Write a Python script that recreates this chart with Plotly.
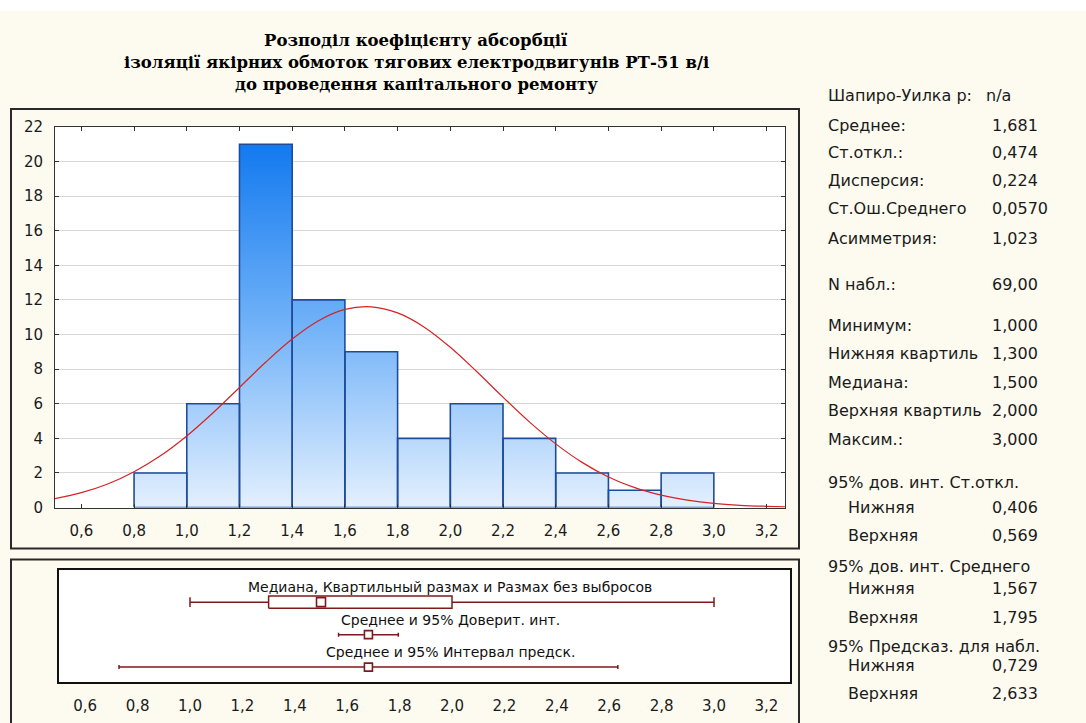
import plotly.graph_objects as go

# ---------------- data ----------------
bin_left = [0.8, 1.0, 1.2, 1.4, 1.6, 1.8, 2.0, 2.2, 2.4, 2.6, 2.8]
bin_width = 0.2
counts = [2, 6, 21, 12, 9, 4, 6, 4, 2, 1, 2]

# expected normal curve
curve_x = [0.5, 0.6, 0.7, 0.8, 0.9, 1.0, 1.1, 1.2, 1.3, 1.4, 1.5, 1.6, 1.7, 1.8, 1.9,
           2.0, 2.1, 2.2, 2.3, 2.4, 2.5, 2.6, 2.7, 2.8, 2.9, 3.0, 3.1, 3.2, 3.27]
curve_y = [0.52, 0.86, 1.36, 2.07, 2.99, 4.14, 5.48, 6.94, 8.41, 9.74, 10.80, 11.45, 11.60,
           11.25, 10.44, 9.26, 7.86, 6.38, 4.95, 3.68, 2.61, 1.77, 1.15, 0.72, 0.43, 0.24,
           0.13, 0.07, 0.04]

x_ticks = [0.6, 0.8, 1.0, 1.2, 1.4, 1.6, 1.8, 2.0, 2.2, 2.4, 2.6, 2.8, 3.0, 3.2]
y_ticks = [0, 2, 4, 6, 8, 10, 12, 14, 16, 18, 20, 22]

q_low, q1, median, q3, q_high = 1.0, 1.3, 1.5, 2.0, 3.0
mean = 1.681
ci_mean = [1.567, 1.795]
pred_int = [0.729, 2.633]
row_labels = ["Медиана, Квартильный размах и Размах без выбросов",
              "Среднее и 95% Доверит. инт.",
              "Среднее и 95% Интервал предск."]

title_lines = ["Розподіл коефіцієнту абсорбції",
               "ізоляції якірних обмоток тягових електродвигунів РТ-51 в/і",
               "до проведення капітального ремонту"]

stat_labels = ["Шапиро-Уилка p:", "Среднее:", "Ст.откл.:", "Дисперсия:", "Ст.Ош.Среднего",
               "Асимметрия:", "N набл.:", "Минимум:", "Нижняя квартиль", "Медиана:",
               "Верхняя квартиль", "Максим.:", "95% дов. инт. Ст.откл.", "Нижняя", "Верхняя",
               "95% дов. инт. Среднего", "Нижняя", "Верхняя", "95% Предсказ. для набл.",
               "Нижняя", "Верхняя"]
stat_values = ["n/a", "1,681", "0,474", "0,224", "0,0570", "1,023", "69,00", "1,000", "1,300",
               "1,500", "2,000", "3,000", "", "0,406", "0,569", "", "1,567", "1,795", "",
               "0,729", "2,633"]
stat_indent = [0, 0, 0, 0, 0, 0, 0, 0, 0, 0, 0, 0, 0, 1, 1, 0, 1, 1, 0, 1, 1]
stat_rows_px = [95, 125, 152, 180, 208, 238, 284, 325, 353, 382, 410, 439, 482, 507, 535,
                566, 588, 617, 646, 665, 693]

# ---------------- layout helpers ----------------
W, H = 1086, 723
OFF, SC = 8.0, 0.976   # observed vertical offset / scale of the photographed page
def px(x):
    return x / W
def py(y):
    return 1 - ((y - OFF) / SC) / H

CREAM = "#FDFAF0"
MAROON = "#7D1B1B"
BAR_LINE = "#1D4C9C"
FONT = "DejaVu Sans"

fig = go.Figure()

# histogram bars as filled polygons with vertical gradient
bx, by = [], []
for l, c in zip(bin_left, counts):
    r = l + bin_width
    bx += [l, l, r, r, l, None]
    by += [0, c, c, 0, 0, None]
fig.add_trace(go.Scatter(
    x=bx, y=by, mode="lines", fill="toself",
    line=dict(color=BAR_LINE, width=1.6),
    fillgradient=dict(type="vertical", start=0, stop=22,
                      colorscale=[[0, "#EAF3FE"], [0.5, "#6FB1F8"], [1, "#0A74EE"]]),
    hoverinfo="skip", showlegend=False, xaxis="x", yaxis="y"))

fig.add_trace(go.Scatter(
    x=curve_x, y=curve_y, mode="lines", line=dict(color="#D42424", width=1.2, shape="spline"),
    hoverinfo="skip", showlegend=False, xaxis="x", yaxis="y"))

# ---- bottom panel (box / intervals) ----
rows = [3, 2, 1]
half_h = 0.19
fig.add_trace(go.Scatter(
    x=[q_low, q1, None, q3, q_high], y=[rows[0]] * 2 + [None] + [rows[0]] * 2,
    mode="lines", line=dict(color=MAROON, width=1.5),
    hoverinfo="skip", showlegend=False, xaxis="x2", yaxis="y2"))
fig.add_trace(go.Scatter(
    x=[q_low, q_high], y=[rows[0]] * 2, mode="markers",
    marker=dict(symbol="line-ns-open", size=7, color=MAROON, line=dict(color=MAROON, width=1.5)),
    hoverinfo="skip", showlegend=False, xaxis="x2", yaxis="y2"))
fig.add_trace(go.Scatter(
    x=[q1, q3, q3, q1, q1],
    y=[rows[0] - half_h, rows[0] - half_h, rows[0] + half_h, rows[0] + half_h, rows[0] - half_h],
    mode="lines", fill="toself", fillcolor="white", line=dict(color=MAROON, width=1.5),
    hoverinfo="skip", showlegend=False, xaxis="x2", yaxis="y2"))
fig.add_trace(go.Scatter(
    x=[median], y=[rows[0]], mode="markers",
    marker=dict(symbol="square", size=9, color="white", line=dict(color=MAROON, width=1.6)),
    hoverinfo="skip", showlegend=False, xaxis="x2", yaxis="y2"))
for row, (lo, hi) in zip(rows[1:], [ci_mean, pred_int]):
    fig.add_trace(go.Scatter(
        x=[mean], y=[row], mode="markers",
        marker=dict(symbol="square", size=8, color="white", line=dict(color=MAROON, width=1.6)),
        error_x=dict(type="data", symmetric=False, array=[hi - mean], arrayminus=[mean - lo],
                     color=MAROON, thickness=1.5, width=2),
        hoverinfo="skip", showlegend=False, xaxis="x2", yaxis="y2"))

annotations = []
for row, lab in zip(rows, row_labels):
    annotations.append(dict(x=px(450), y=row + 0.46, xref="paper", yref="y2", text=lab,
                            showarrow=False, xanchor="center", yanchor="middle",
                            font=dict(family=FONT, size=14, color="#111")))

for line, yy in zip(title_lines, [40, 62, 84]):
    annotations.append(dict(x=px(416), y=py(yy), xref="paper", yref="paper", text="<b>%s</b>" % line,
                            showarrow=False, xanchor="center", yanchor="middle",
                            font=dict(family="DejaVu Serif", size=16.5, color="#000")))

for lab, val, ind, yy in zip(stat_labels, stat_values, stat_indent, stat_rows_px):
    annotations.append(dict(x=px(826 + 20 * ind), y=py(yy), xref="paper", yref="paper", text=lab,
                            showarrow=False, xanchor="left", yanchor="middle",
                            font=dict(family=FONT, size=16, color="#1a1a1a")))
    if val:
        vx = 984 if val == "n/a" else 990
        annotations.append(dict(x=px(vx), y=py(yy), xref="paper", yref="paper", text=val,
                                showarrow=False, xanchor="left", yanchor="middle",
                                font=dict(family=FONT, size=16, color="#1a1a1a")))

shapes = [
    dict(type="rect", xref="paper", yref="paper", x0=0, x1=1, y0=py(10), y1=1.02,
         fillcolor="white", line=dict(width=0), layer="below"),
    dict(type="rect", xref="paper", yref="paper", x0=px(11), x1=px(799), y0=py(548), y1=py(108),
         line=dict(color="#2a2a2a", width=2), layer="above"),
    dict(type="rect", xref="paper", yref="paper", x0=px(11), x1=px(799), y0=py(745), y1=py(559),
         line=dict(color="#2a2a2a", width=2), layer="above"),
]

axis_font = dict(family=FONT, size=15, color="#1a1a1a")
fig.update_layout(
    width=W, height=H, margin=dict(l=0, r=0, t=0, b=0),
    paper_bgcolor=CREAM, plot_bgcolor="white",
    separators=", ",
    showlegend=False,
    xaxis=dict(domain=[px(55), px(785)], range=[0.5, 3.27], tickvals=x_ticks, tickformat=".1f",
               ticks="inside", ticklen=4, tickcolor="#333", mirror="ticks", showline=True,
               linecolor="#333", linewidth=1, showgrid=False, zeroline=False,
               tickfont=axis_font, ticklabelstandoff=9, anchor="y"),
    yaxis=dict(domain=[py(507), py(126)], range=[0, 22], tickvals=y_ticks,
               ticks="inside", ticklen=4, tickcolor="#333", mirror="ticks", showline=True,
               linecolor="#333", linewidth=1, showgrid=True, gridcolor="#D6D6D6", gridwidth=1,
               zeroline=False, tickfont=axis_font, ticklabelstandoff=8, anchor="x"),
    xaxis2=dict(domain=[px(59), px(790)], range=[0.5, 3.29], tickvals=x_ticks, tickformat=".1f",
                ticks="", showline=True, mirror=True, linecolor="#111", linewidth=1.8,
                showgrid=False, zeroline=False, tickfont=axis_font, ticklabelstandoff=9,
                anchor="y2"),
    yaxis2=dict(domain=[py(682), py(570)], range=[0.53, 3.975], showticklabels=False,
                ticks="", showline=True, mirror=True, linecolor="#111", linewidth=1.8,
                showgrid=False, zeroline=False, anchor="x2"),
    annotations=annotations,
    shapes=shapes,
)

fig.write_html("out.html", config={"displayModeBar": False},
               post_script="document.body.style.margin='0';")
